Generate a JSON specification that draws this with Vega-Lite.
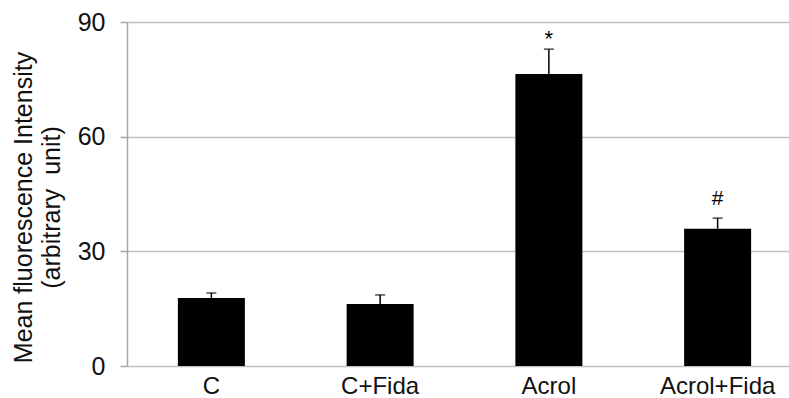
{
  "$schema": "https://vega.github.io/schema/vega-lite/v6.json",
  "width": 662,
  "height": 344,
  "autosize": {"type": "none"},
  "padding": {"left": 127, "top": 22, "right": 0, "bottom": 32},
  "background": "white",
  "config": {"view": {"stroke": null}, "font": "Liberation Sans"},
  "data": {
    "values": [
      {"group": "C", "value": 17.8, "upper": 19.1, "label": ""},
      {"group": "C+Fida", "value": 16.2, "upper": 18.6, "label": ""},
      {"group": "Acrol", "value": 76.4, "upper": 82.9, "label": "*"},
      {"group": "Acrol+Fida", "value": 35.9, "upper": 38.7, "label": "#"}
    ]
  },
  "encoding": {
    "x": {
      "field": "group",
      "type": "nominal",
      "sort": null,
      "scale": {"range": [0, 675], "paddingInner": 0, "paddingOuter": 0},
      "axis": {
        "title": null,
        "labelAngle": 0,
        "ticks": false,
        "domain": false,
        "labelFontSize": 24,
        "labelColor": "#111111",
        "labelPadding": 8
      }
    }
  },
  "layer": [
    {
      "mark": {"type": "bar", "color": "#000000", "width": 67},
      "encoding": {
        "y": {
          "field": "value",
          "type": "quantitative",
          "scale": {"domain": [0, 90], "nice": false},
          "axis": {
            "values": [0, 30, 60, 90],
            "grid": true,
            "gridColor": "#c0c0c0",
            "gridWidth": 1.5,
            "domainColor": "#a6a6a6",
            "domainWidth": 1.5,
            "tickColor": "#a6a6a6",
            "tickWidth": 1.5,
            "tickSize": 7,
            "labelFontSize": 25,
            "labelColor": "#111111",
            "labelPadding": 15,
            "title": ["Mean fluorescence Intensity", "(arbitrary\u00a0 unit)"],
            "titleFontSize": 25,
            "titleFontWeight": "normal",
            "titleColor": "#111111",
            "titleLineHeight": 28,
            "titleAngle": -90,
            "titleX": -104,
            "titleY": 185,
            "titleAlign": "center",
            "titleBaseline": "middle"
          }
        }
      }
    },
    {
      "mark": {"type": "rule", "color": "#000000", "strokeWidth": 1.5},
      "encoding": {
        "y": {"field": "value", "type": "quantitative"},
        "y2": {"field": "upper"}
      }
    },
    {
      "mark": {"type": "tick", "color": "#000000", "thickness": 1.5, "size": 10},
      "encoding": {
        "y": {"field": "upper", "type": "quantitative"}
      }
    },
    {
      "transform": [{"filter": "datum.label === '*'"}],
      "mark": {"type": "text", "fontSize": 22, "baseline": "bottom", "dy": 2, "color": "#000000"},
      "encoding": {
        "y": {"field": "upper", "type": "quantitative"},
        "text": {"field": "label"}
      }
    },
    {
      "transform": [{"filter": "datum.label === '#'"}],
      "mark": {"type": "text", "fontSize": 21, "baseline": "bottom", "dy": -9, "color": "#000000"},
      "encoding": {
        "y": {"field": "upper", "type": "quantitative"},
        "text": {"field": "label"}
      }
    }
  ]
}
